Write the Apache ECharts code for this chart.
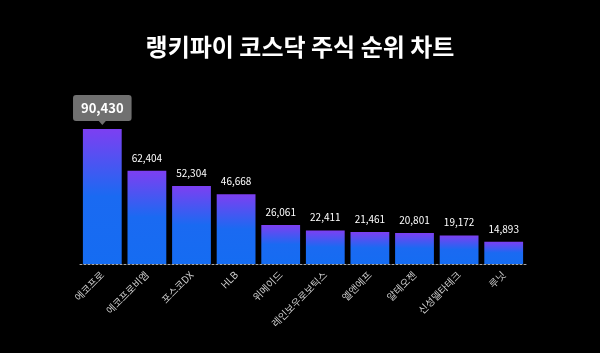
<!DOCTYPE html>
<html>
<head>
<meta charset="utf-8">
<script src="https://cdn.jsdelivr.net/npm/echarts@6/dist/echarts.min.js"></script>
<style>
  html, body { margin: 0; padding: 0; background: #000; }
  #chart { width: 600px; height: 353px; }
</style>
</head>
<body>
<div id="chart"></div>
<script>
const categories = ['에코프로', '에코프로비엠', '포스코DX', 'HLB', '위메이드', '레인보우로보틱스', '엘앤에프', '알테오젠', '신성델타테크', '루닛']
const values = [90430, 62404, 52304, 46668, 26061, 22411, 21461, 20801, 19172, 14893]

const chart = echarts.init(document.getElementById('chart'))
const font = '"Noto Sans CJK KR", "Noto Sans", sans-serif'

const barColor = new echarts.graphic.LinearGradient(0, 0, 0, 1, [
  { offset: 0, color: '#7d3ff2' },
  { offset: 0.5, color: '#1a6af2' },
  { offset: 1, color: '#156cf2' }
])

chart.setOption({
  backgroundColor: '#000',
  title: {
    text: '랭키파이 코스닥 주식 순위 차트',
    left: 'center',
    top: 30,
    textStyle: { color: '#fff', fontSize: 24, fontWeight: 'bold', fontFamily: font }
  },
  grid: { left: 80, right: 74, top: 129, bottom: 89 },
  xAxis: {
    type: 'category',
    data: categories,
    axisLine: { lineStyle: { color: '#aaa', type: [2, 2], width: 1 } },
    axisTick: { show: false },
    axisLabel: { color: '#ccc', fontSize: 10, rotate: 45, margin: 9, fontFamily: font }
  },
  yAxis: {
    type: 'value',
    min: 0,
    max: 'dataMax',
    show: false
  },
  series: [{
    type: 'bar',
    barCategoryGap: '13%',
    data: values.map((v, i) => i === 0 ? {
      value: v,
      label: {
        fontSize: 13,
        fontWeight: 'bold',
        color: '#fff',
        backgroundColor: '#707070',
        borderRadius: 3,
        padding: [7, 8, 6, 8],
        distance: 8
      }
    } : v),
    itemStyle: { color: barColor },
    label: {
      show: true,
      position: 'top',
      color: '#fff',
      fontSize: 10,
      distance: 8,
      fontFamily: font,
      formatter: p => p.value.toLocaleString('en-US')
    },
    markPoint: {
      silent: true,
      symbol: 'triangle',
      symbolRotate: 180,
      symbolSize: [7, 4],
      symbolOffset: [0, -6],
      itemStyle: { color: '#707070' },
      label: { show: false },
      data: [{ coord: [categories[0], values[0]] }]
    }
  }]
})
</script>
</body>
</html>
